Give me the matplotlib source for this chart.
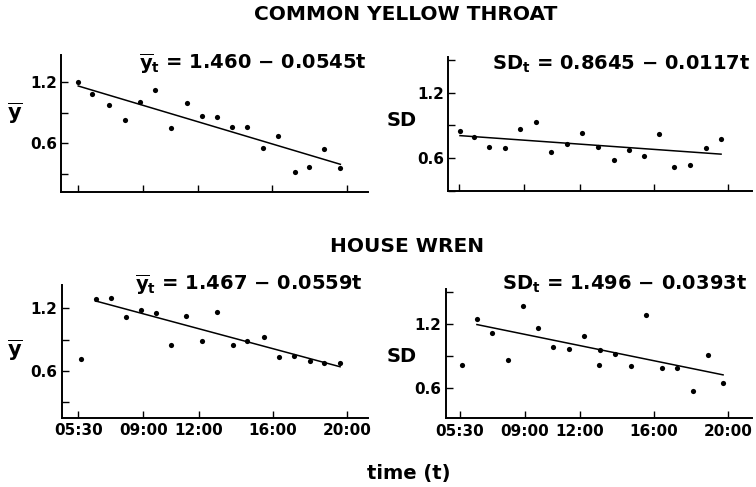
import numpy as np
import matplotlib
matplotlib.use("Agg")
import matplotlib.pyplot as plt
from matplotlib.ticker import FixedLocator, NullFormatter

# hours of day (decimal) and values
cyt_time = [5.53, 6.29, 7.20, 8.05, 8.86, 9.67, 10.53, 11.37, 12.20,
            13.00, 13.83, 14.64, 15.49, 16.30, 17.20, 17.97, 18.80, 19.66]
cyt_mean = [1.20, 1.078, 0.971, 0.829, 1.004, 1.12, 0.749, 0.994, 0.865,
            0.855, 0.762, 0.759, 0.555, 0.668, 0.319, 0.374, 0.542, 0.358]
cyt_sd_time = [5.55, 6.32, 7.13, 7.99, 8.80, 9.63, 10.47, 11.32, 12.11,
               13.00, 13.85, 14.67, 15.48, 16.27, 17.08, 17.96, 18.80, 19.61]
cyt_sd = [0.847, 0.790, 0.700, 0.694, 0.869, 0.931, 0.656, 0.725, 0.834,
          0.697, 0.584, 0.672, 0.622, 0.825, 0.522, 0.534, 0.694, 0.778]

hw_time = [5.62, 6.43, 7.26, 8.07, 8.87, 9.72, 10.53, 11.34, 12.16,
           12.99, 13.83, 14.61, 15.54, 16.34, 17.16, 17.99, 18.79, 19.64]
hw_mean = [0.717, 1.291, 1.300, 1.118, 1.184, 1.153, 0.846, 1.124, 0.884,
           1.158, 0.850, 0.881, 0.928, 0.730, 0.739, 0.695, 0.676, 0.676]
hw_sd_time = [5.59, 6.42, 7.25, 8.10, 8.90, 9.74, 10.56, 11.39, 12.22, 13.09,
              13.05, 13.92, 14.78, 15.56, 16.43, 17.26, 18.13, 18.92, 19.75]
hw_sd = [0.819, 1.253, 1.113, 0.860, 1.375, 1.166, 0.981, 0.969, 1.085, 0.956,
         0.813, 0.916, 0.806, 1.284, 0.788, 0.788, 0.575, 0.907, 0.647]

xtick_hours = [5.5, 9.0, 12.0, 16.0, 20.0]
xtick_labels = ["05:30", "09:00", "12:00", "16:00", "20:00"]

eq_cyt_mean = r"$\overline{\mathbf{y}}_\mathbf{t}$ = 1.460 $\mathbf{-}$ 0.0545t"
eq_cyt_sd = r"SD$_\mathbf{t}$ = 0.8645 $\mathbf{-}$ 0.0117t"
eq_hw_mean = r"$\overline{\mathbf{y}}_\mathbf{t}$ = 1.467 $\mathbf{-}$ 0.0559t"
eq_hw_sd = r"SD$_\mathbf{t}$ = 1.496 $\mathbf{-}$ 0.0393t"

plt.rcParams["font.family"] = ["DejaVu Sans"]
plt.rcParams["font.weight"] = "bold"
plt.rcParams["mathtext.fontset"] = "dejavusans"

W, H = 756, 487
fig = plt.figure(figsize=(W / 100, H / 100), dpi=100)


def px_axes(x0, y0, x1, y1):
    # pixel box (top-left origin) -> figure axes
    return fig.add_axes([x0 / W, 1 - y1 / H, (x1 - x0) / W, (y1 - y0) / H])


def px_text(x, y, s, **kw):
    fig.text(x / W, 1 - y / H, s, ha="center", va="center", **kw)


def panel(ax, t, v, xlim, ylim, skip_first, xlabels):
    ax.scatter(t, v, s=14, color="black", linewidths=0, zorder=3)
    tt = np.array(t[1:] if skip_first else t)
    vv = np.array(v[1:] if skip_first else v)
    b, a = np.polyfit(tt, vv, 1)
    xs = np.array([tt.min(), tt.max()])
    ax.plot(xs, a + b * xs, color="black", lw=1.1)
    ax.set_xlim(*xlim)
    ax.set_ylim(*ylim)
    for s in ("top", "right"):
        ax.spines[s].set_visible(False)
    for s in ("left", "bottom"):
        ax.spines[s].set_linewidth(1.4)
    ax.set_xticks(xtick_hours)
    if xlabels:
        ax.set_xticklabels(xtick_labels, fontsize=11, fontweight="bold")
    else:
        ax.set_xticklabels([])
    ax.set_yticks([0.6, 1.2])
    ax.set_yticklabels(["0.6", "1.2"], fontsize=11, fontweight="bold")
    ax.yaxis.set_minor_locator(FixedLocator([0.3, 0.9, 1.5]))
    ax.yaxis.set_minor_formatter(NullFormatter())
    ax.tick_params(direction="in", length=5, width=1.0, pad=4)
    ax.tick_params(which="minor", direction="in", length=5, width=1.0)
    ax.tick_params(axis="y", pad=3)


ax1 = px_axes(61, 55, 368, 191.7)
panel(ax1, cyt_time, cyt_mean, (4.6, 21.15), (0.13, 1.46), False, False)
ax2 = px_axes(448.3, 56.7, 751.7, 190.7)
panel(ax2, cyt_sd_time, cyt_sd, (4.92, 21.26), (0.30, 1.53), False, False)
ax3 = px_axes(61.7, 285, 368, 417.7)
panel(ax3, hw_time, hw_mean, (4.6, 21.15), (0.154, 1.42), True, True)
ax4 = px_axes(445.7, 289, 751.7, 418.3)
panel(ax4, hw_sd_time, hw_sd, (4.73, 21.3), (0.316, 1.53), True, True)

# titles and labels
px_text(406, 14, "COMMON YELLOW THROAT", fontsize=14.5)
px_text(407, 246, "HOUSE WREN", fontsize=14.5)
px_text(409, 474, "time (t)", fontsize=14)

px_text(253, 64, eq_cyt_mean, fontsize=14)
px_text(621, 64, eq_cyt_sd, fontsize=14)
px_text(249, 285, eq_hw_mean, fontsize=14)
px_text(625, 284, eq_hw_sd, fontsize=14)

px_text(15, 113, r"$\overline{\mathbf{y}}$", fontsize=15)
px_text(15, 350, r"$\overline{\mathbf{y}}$", fontsize=15)
px_text(402, 120, "SD", fontsize=14)
px_text(402, 356, "SD", fontsize=14)

fig.savefig("out.png", dpi=100)
